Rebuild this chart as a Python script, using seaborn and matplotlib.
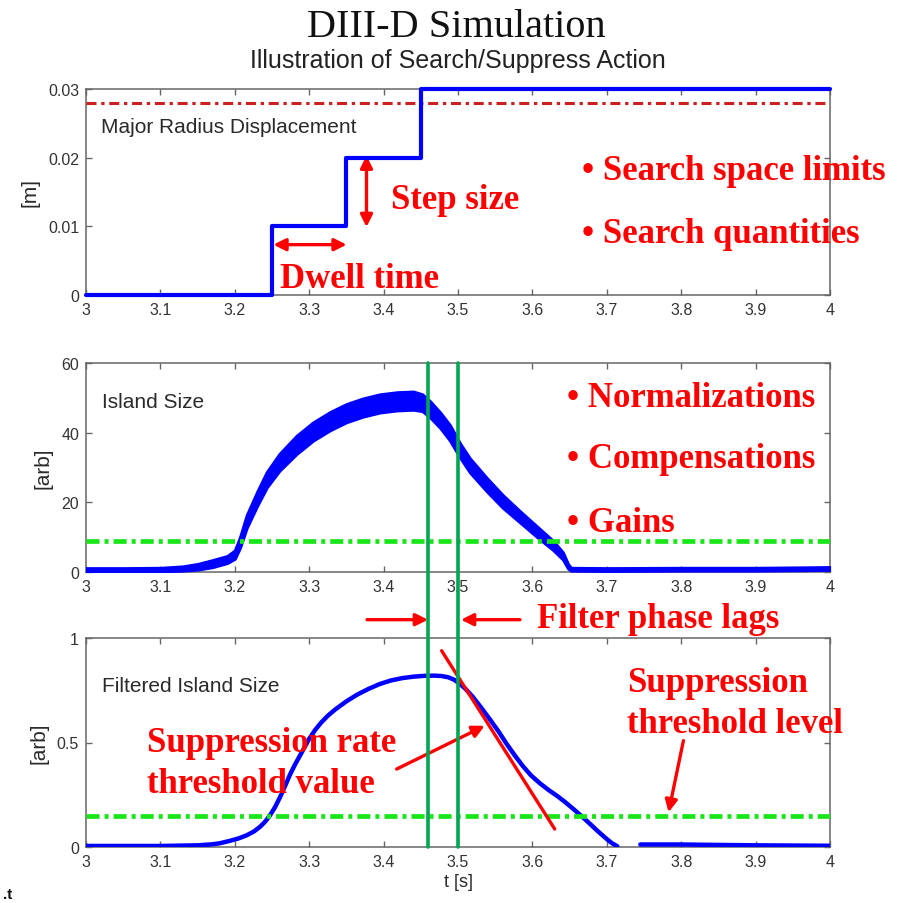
import matplotlib
matplotlib.use("Agg")
import matplotlib.pyplot as plt
import matplotlib.transforms as mtransforms
from matplotlib.lines import Line2D
import numpy as np
import pandas as pd
import seaborn as sns

# ---- data -------------------------------------------------------------
# commanded major radius displacement (piecewise constant search steps)
step_t = [3.0, 3.25, 3.35, 3.45, 4.0]
step_r = [0.0, 0.01, 0.02, 0.03, 0.03]
radius_limit = 0.028

# raw island size: centre of the fluctuating trace and half-width of its band
island_t = [3.00, 3.05, 3.10, 3.13, 3.15, 3.17, 3.19, 3.20, 3.207, 3.216,
            3.23, 3.243, 3.26, 3.283, 3.305, 3.328, 3.35, 3.372, 3.395, 3.418,
            3.44, 3.452, 3.462, 3.476, 3.489, 3.503, 3.516, 3.539, 3.56, 3.583,
            3.606, 3.628, 3.641, 3.648, 3.652, 3.70, 3.80, 3.90, 3.95, 4.00]
island_mid = [0.6, 0.6, 0.7, 1.0, 1.5, 2.4, 3.6, 5.0, 8.5, 14.5,
              21.0, 26.5, 31.5, 36.5, 40.3, 43.3, 45.6, 47.2, 48.4, 49.0,
              49.2, 48.6, 46.8, 43.6, 40.0, 34.8, 30.6, 25.0, 20.3, 15.9,
              11.6, 7.6, 4.6, 1.6, 0.8, 0.7, 0.8, 0.8, 0.9, 1.0]
island_spread = [0.5, 0.5, 0.5, 0.6, 0.8, 1.0, 1.0, 1.2, 1.5, 1.8,
                 2.0, 2.2, 2.4, 2.6, 2.6, 2.6, 2.6, 2.6, 2.6, 2.6,
                 2.6, 2.4, 2.3, 2.2, 2.2, 2.0, 2.0, 1.9, 1.8, 1.6,
                 1.5, 1.3, 1.0, 0.6, 0.4, 0.4, 0.4, 0.4, 0.4, 0.4]
island_threshold = 9

# filtered island size (two segments: before and after the dip below zero)
filt_t = [3.00, 3.10, 3.15, 3.17, 3.18, 3.194, 3.205, 3.216, 3.226, 3.234,
          3.241, 3.247, 3.254, 3.261, 3.268, 3.274, 3.281, 3.288, 3.295, 3.30,
          3.308, 3.316, 3.325, 3.335, 3.35, 3.365, 3.38, 3.395, 3.41, 3.425,
          3.44, 3.455, 3.468, 3.478, 3.487, 3.495, 3.502, 3.51, 3.52, 3.53,
          3.543, 3.555, 3.566, 3.577, 3.587, 3.598, 3.61, 3.622, 3.633, 3.644,
          3.655, 3.666, 3.677, 3.689, 3.70, 3.707, 3.714,
          3.745, 3.80, 3.90, 4.00]
filt_v = [0.005, 0.005, 0.008, 0.013, 0.018, 0.030, 0.041, 0.056, 0.075, 0.097,
          0.122, 0.150, 0.190, 0.240, 0.295, 0.345, 0.395, 0.440, 0.485, 0.518,
          0.560, 0.595, 0.628, 0.658, 0.697, 0.730, 0.757, 0.780, 0.797, 0.808,
          0.815, 0.819, 0.820, 0.818, 0.812, 0.800, 0.782, 0.757, 0.718, 0.672,
          0.610, 0.550, 0.490, 0.435, 0.388, 0.343, 0.305, 0.272, 0.245, 0.215,
          0.182, 0.148, 0.112, 0.072, 0.038, 0.018, 0.004,
          0.012, 0.012, 0.008, 0.006]
filt_segment = [0] * 57 + [1] * 4
filt_threshold = 0.15

# suppression-rate tangent
rate_t = [3.478, 3.630]
rate_v = [0.939, 0.086]

# filter lag markers
lag_marks = [3.46, 3.50]

x_ticks = [3.0, 3.1, 3.2, 3.3, 3.4, 3.5, 3.6, 3.7, 3.8, 3.9, 4.0]
x_tick_labels = ["3", "3.1", "3.2", "3.3", "3.4", "3.5", "3.6", "3.7", "3.8", "3.9", "4"]
r_ticks, r_tick_labels = [0, 0.01, 0.02, 0.03], ["0", "0.01", "0.02", "0.03"]
i_ticks, i_tick_labels = [0, 20, 40, 60], ["0", "20", "40", "60"]
f_ticks, f_tick_labels = [0, 0.5, 1], ["0", "0.5", "1"]

# ---- style ------------------------------------------------------------
sns.set_theme(style="white")
plt.rcParams["font.family"] = ["Liberation Sans", "DejaVu Sans"]
plt.rcParams["lines.scale_dashes"] = False
plt.rcParams["lines.solid_joinstyle"] = "round"

BLUE = "#0000ff"
RED = "#ff0000"
LIMIT_RED = "#cc2020"
BRIGHT_GREEN = "#19e619"
LAG_GREEN = "#00a651"
SPINE = "#666666"
TXT = "#2a2a2a"

note = dict(family=["Liberation Serif", "DejaVu Serif"], weight="bold",
            fontsize=25, color=RED)
label = dict(fontsize=15, color=TXT)

fig = plt.figure(figsize=(9.01, 9.04), dpi=100)
W, H = 901.0, 904.0
L, R = 86, 830


def axes_at(top, bottom):
    return fig.add_axes([L / W, (H - bottom) / H, (R - L) / W, (bottom - top) / H])


ax1 = axes_at(90, 296)
ax2 = axes_at(364, 573)
ax3 = axes_at(639, 848)

for ax in (ax1, ax2, ax3):
    ax.set_facecolor("white")
    ax.set_xlim(3, 4)
    ax.set_xticks(x_ticks)
    ax.set_xticklabels(x_tick_labels)
    ax.tick_params(direction="in", length=4, width=1, color=SPINE,
                   top=True, right=True, bottom=True, left=True,
                   labelsize=11.5, labelcolor="#333333", pad=5)
    for s in ax.spines.values():
        s.set_visible(True)
        s.set_color(SPINE)
        s.set_linewidth(1.1)

# ---- panel 1: major radius displacement ------------------------------
sns.lineplot(x=step_t, y=step_r, drawstyle="steps-post", color=BLUE,
             linewidth=3.0, ax=ax1, clip_on=False, zorder=5)
ax1.axhline(radius_limit, color=LIMIT_RED, linewidth=2.2,
            dashes=(7.2, 3.4, 2.4, 3.4), zorder=4)
ax1.set_ylim(0, 0.03)
ax1.set_yticks(r_ticks)
ax1.set_yticklabels(r_tick_labels)
ax1.set_ylabel("[m]", fontsize=15, color=TXT, labelpad=6)
ax1.set_xlabel("")
ax1.text(3.020, 0.0237, "Major Radius Displacement", va="baseline", **label)

arrow = dict(arrowstyle="<|-|>", color=RED, lw=2.4, mutation_scale=18,
             shrinkA=0, shrinkB=0)
ax1.annotate("", xy=(3.377, 0.0099), xytext=(3.377, 0.0203), arrowprops=arrow)
ax1.annotate("", xy=(3.3504, 0.00733), xytext=(3.2518, 0.00733), arrowprops=arrow)
ax1.text(3.410, 0.01267, "Step size", va="baseline", **note)
ax1.text(3.261, 0.00117, "Dwell time", va="baseline", **note)
ax1.text(3.666, 0.0169, "\u2022 Search space limits", va="baseline", **note)
ax1.text(3.666, 0.00767, "\u2022 Search quantities", va="baseline", **note)

# ---- panel 2: raw island size ------------------------------------------
mid = np.asarray(island_mid)
spread = np.asarray(island_spread)
ax2.fill_between(island_t, mid - spread, mid + spread, color=BLUE,
                 linewidth=2.2, edgecolor=BLUE, zorder=3)
sns.lineplot(x=island_t, y=island_mid, color=BLUE, linewidth=2.5, ax=ax2, zorder=3)
ax2.axhline(island_threshold, color=BRIGHT_GREEN, linewidth=3.4,
            dashes=(9.4, 3.6, 2.9, 3.6), zorder=4)
ax2.set_ylim(0, 60)
ax2.set_yticks(i_ticks)
ax2.set_yticklabels(i_tick_labels)
ax2.set_ylabel("[arb]", fontsize=15, color=TXT, labelpad=6)
ax2.set_xlabel("")
ax2.text(3.021, 47.3, "Island Size", va="baseline", **label)
ax2.text(3.646, 47.7, "\u2022 Normalizations", va="baseline", **note)
ax2.text(3.646, 30.05, "\u2022 Compensations", va="baseline", **note)
ax2.text(3.646, 11.86, "\u2022 Gains", va="baseline", **note)

# ---- panel 3: filtered island size -------------------------------------
filt = pd.DataFrame({"t": filt_t, "v": filt_v, "seg": filt_segment})
sns.lineplot(data=filt, x="t", y="v", units="seg", estimator=None,
             color=BLUE, linewidth=3.2, ax=ax3, zorder=3)
ax3.axhline(filt_threshold, color=BRIGHT_GREEN, linewidth=3.4,
            dashes=(9.4, 3.6, 2.9, 3.6), zorder=4)
sns.lineplot(x=rate_t, y=rate_v, color=RED, linewidth=2.4, ax=ax3, zorder=5)
ax3.set_ylim(0, 1)
ax3.set_yticks(f_ticks)
ax3.set_yticklabels(f_tick_labels)
ax3.set_ylabel("[arb]", fontsize=15, color=TXT, labelpad=6)
ax3.set_xlabel("t [s]", fontsize=13, color=TXT, labelpad=3)
ax3.text(3.021, 0.748, "Filtered Island Size", va="baseline", **label)

one_head = dict(arrowstyle="-|>", color=RED, lw=2.4, mutation_scale=18,
                shrinkA=0, shrinkB=0)
ax3.text(3.0815, 0.461, "Suppression rate", va="baseline", **note)
ax3.text(3.0815, 0.262, "threshold value", va="baseline", **note)
ax3.annotate("", xy=(3.536, 0.58), xytext=(3.4176, 0.373), arrowprops=one_head)
ax3.text(3.7267, 0.748, "Suppression", va="baseline", **note)
ax3.text(3.7267, 0.549, "threshold level", va="baseline", **note)
ax3.annotate("", xy=(3.783, 0.166), xytext=(3.803, 0.509), arrowprops=one_head)

# filter phase lag arrows between the two lower panels
ax3.annotate("", xy=(3.4597, 1.0876), xytext=(3.3777, 1.0876),
             arrowprops=one_head, annotation_clip=False)
ax3.annotate("", xy=(3.5040, 1.0876), xytext=(3.5833, 1.0876),
             arrowprops=one_head, annotation_clip=False)
ax3.text(3.6058, 1.051, "Filter phase lags", va="baseline", clip_on=False, **note)

# lag markers spanning the raw and filtered panels
span = mtransforms.blended_transform_factory(ax3.transData, fig.transFigure)
for x in lag_marks:
    fig.add_artist(Line2D([x, x], [(H - 848) / H, (H - 364) / H],
                          transform=span, color=LAG_GREEN, linewidth=2.6))

# ---- titles -------------------------------------------------------------
fig.text(456 / W, (H - 37) / H, "DIII-D Simulation", ha="center", va="baseline",
         family=["Liberation Serif", "DejaVu Serif"], fontsize=29, color="#111111")
fig.text(458 / W, (H - 68) / H, "Illustration of Search/Suppress Action",
         ha="center", va="baseline", fontsize=18, color="#222222")
fig.text(3 / W, (H - 899) / H, ".t", ha="left", va="baseline", fontsize=11,
         weight="bold", color="#111111")

fig.savefig("out.png", dpi=100, facecolor="white")
